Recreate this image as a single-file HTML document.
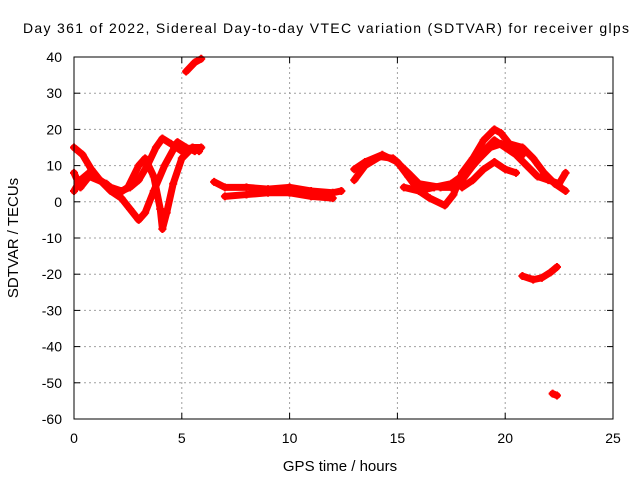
<!DOCTYPE html>
<html><head><meta charset="utf-8"><style>
body{margin:0;background:#fff}
svg text{font-family:"Liberation Sans",sans-serif;fill:#000}
</style></head><body>
<svg id="chart" width="640" height="480" xmlns="http://www.w3.org/2000/svg">
<text x="326" y="33" font-size="14" text-anchor="middle" textLength="606">Day 361 of 2022, Sidereal Day-to-day VTEC variation (SDTVAR) for receiver glps</text>
<text x="340" y="471" font-size="15" text-anchor="middle">GPS time / hours</text>
<text transform="translate(18,238) rotate(-90)" font-size="15" text-anchor="middle">SDTVAR / TECUs</text>
<g id="grid"></g><g id="marks"></g><g id="axes"></g>
</svg>
<script>
const xTicks=[0,5,10,15,20,25];
const yTicks=[-60,-50,-40,-30,-20,-10,0,10,20,30,40];
const trackA=[[0,3],[0.3,6],[0.7,8],[1.2,6],[1.7,4],[2.2,3],[2.6,4],[3.0,6],[3.4,10],[3.8,15],[4.1,17.5],[4.5,16],[5.0,14],[5.5,15],[5.8,14]];
const trackB=[[0,15],[0.4,13],[0.8,9],[1.2,6],[1.7,3],[2.2,1],[2.6,-2],[3.0,-5],[3.3,-3],[3.7,3],[4.2,10],[4.8,16.5],[5.2,15],[5.6,14]];
const trackC=[[0,8],[0.3,4],[0.7,7],[1.5,5],[2.0,2],[2.5,4],[3.0,10],[3.3,12],[3.7,7],[4.0,-2],[4.1,-7.5],[4.3,-3],[4.6,5],[5.0,12],[5.5,15],[5.9,15]];
const trackTop=[[5.2,36],[5.6,38.5],[5.9,39.5]];
const trackFlat1=[[6.5,5.5],[7,4],[8,4],[9,3.5],[10,4],[11,3],[12,2.5],[12.4,3]];
const trackFlat2=[[7,1.5],[8,2],[9,2.5],[10,2.5],[11,1.5],[12,1]];
const trackD=[[13,6],[13.5,10],[14.2,12.5],[14.8,12],[15.5,8],[16,5],[17,4],[17.5,4],[18,6],[18.5,10],[19,14],[19.5,17],[20,15],[20.5,13],[21,10],[21.5,7],[22,6],[22.5,5],[22.8,8]];
const trackE=[[13,9],[13.5,11],[14.3,13],[15,11],[15.5,7],[16,3],[16.5,1],[17.2,-1],[17.6,2],[18,8],[18.5,12],[19,17],[19.5,20],[19.8,19],[20.2,16],[20.8,15],[21.3,12],[21.8,8],[22.3,5],[22.8,3]];
const trackF=[[15.3,4],[16,3],[16.7,4],[17.5,5],[18.2,8],[18.8,12],[19.3,15],[19.8,16],[20.3,15],[20.8,13]];
const trackG=[[18,4],[18.5,6],[19,9],[19.5,11],[20,9],[20.5,8]];
const trackNeg=[[20.8,-20.5],[21.3,-21.5],[21.7,-21],[22.1,-19.5],[22.4,-18]];
const trackLow=[[22.2,-53],[22.4,-53.5]];
const tracks=[trackA,trackB,trackC,trackTop,trackFlat1,trackFlat2,trackD,trackE,trackF,trackG,trackNeg,trackLow];

const X0=74,X1=613,Y0=419,Y1=57;
const sx=h=>X0+(h-0)/(25-0)*(X1-X0);
const sy=v=>Y0-(v+60)/(100)*(Y0-Y1);
const NS="http://www.w3.org/2000/svg";
function mk(tag,attrs,parent){const e=document.createElementNS(NS,tag);for(const k in attrs)e.setAttribute(k,attrs[k]);parent.appendChild(e);return e;}
const grid=document.getElementById('grid'),axes=document.getElementById('axes'),marks=document.getElementById('marks');
xTicks.forEach(t=>{
  if(t>0&&t<25){const l=mk('line',{x1:sx(t),x2:sx(t),y1:Y1,y2:Y0,stroke:'#a0a0a0','stroke-dasharray':'2,3'},grid);
  
  }
  mk('line',{x1:sx(t),x2:sx(t),y1:Y0,y2:Y0-6,stroke:'#000'},axes);
  mk('line',{x1:sx(t),x2:sx(t),y1:Y1,y2:Y1+6,stroke:'#000'},axes);
  const tx=mk('text',{x:sx(t),y:Y0+24,'font-size':14,'text-anchor':'middle'},axes);tx.textContent=t;
  
  
});
yTicks.forEach(t=>{
  if(t>-60&&t<40){const l=mk('line',{x1:X0,x2:X1,y1:sy(t),y2:sy(t),stroke:'#a0a0a0','stroke-dasharray':'2,3'},grid);
  
  }
  mk('line',{x1:X0,x2:X0+6,y1:sy(t),y2:sy(t),stroke:'#000'},axes);
  mk('line',{x1:X1,x2:X1-6,y1:sy(t),y2:sy(t),stroke:'#000'},axes);
  const tx=mk('text',{x:X0-12,y:sy(t)+5,'font-size':14,'text-anchor':'end'},axes);tx.textContent=t;
  
  
});
const frame=mk('rect',{x:X0,y:Y1,width:X1-X0,height:Y0-Y1,fill:'none',stroke:'#000'},axes);


tracks.forEach(tr=>{
  const pl=mk('polyline',{points:tr.map(p=>sx(p[0])+','+sy(p[1])).join(' '),fill:'none',stroke:'#f00','stroke-width':7,'stroke-linejoin':'round','stroke-linecap':'round'},marks);
  
  
  tr.forEach(p=>{
    const x=sx(p[0]),y=sy(p[1]);
    const m=mk('path',{d:`M${x-4},${y}H${x+4}M${x},${y-4}V${y+4}`,stroke:'#f00','stroke-width':2},marks);
    
    
  });
});
</script>
</body></html>
